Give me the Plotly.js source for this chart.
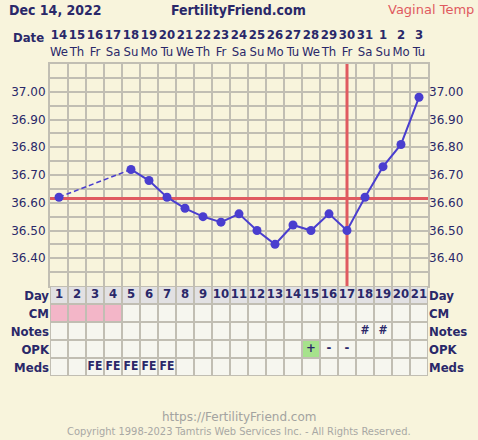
<!DOCTYPE html>
<html><head><meta charset="utf-8">
<script src="https://cdn.plot.ly/plotly-3.0.1.min.js"></script>
<style>html,body{margin:0;padding:0;background:#f8f4dc;}</style>
</head><body><div id="chart" style="width:478px;height:440px;"></div>
<script>
// ---- data ----
const cycleDays = [1,2,3,4,5,6,7,8,9,10,11,12,13,14,15,16,17,18,19,20,21];
const dateLabels = ['14','15','16','17','18','19','20','21','22','23','24','25','26','27','28','29','30','31','1','2','3'];
const weekdayLabels = ['We','Th','Fr','Sa','Su','Mo','Tu','We','Th','Fr','Sa','Su','Mo','Tu','We','Th','Fr','Sa','Su','Mo','Tu'];
const temps = [36.62,null,null,null,36.72,36.68,36.62,36.58,36.55,36.53,36.56,36.50,36.45,36.52,36.50,36.56,36.50,36.62,36.73,36.81,36.98];
const tempTicks = [36.40,36.50,36.60,36.70,36.80,36.90,37.00];
const tempRange = [36.30, 37.10];
const coverline = 36.615;
const ovulationDay = 17;
const rowLabels = ['Meds','OPK','Notes','CM','Day'];
const cmCodes = [1,1,1,1,0,0,0,0,0,0,0,0,0,0,0,0,0,0,0,0,0];
const notesMarks = ['','','','','','','','','','','','','','','','','','#','#','',''];
const opkResults = ['','','','','','','','','','','','','','','+','-','-','','','',''];
const medsMarks = ['','','FE','FE','FE','FE','FE','','','','','','','','','','','','','',''];

// ---- style ----
const BG = '#f8f4dc', GRID = '#c1beb3', NAVY = '#2a2869', LINE = '#4a3ecf', RED = '#e05a60';
const CELL = '#f6f6ef', DAYCELL = '#e2e1e3', PINK = '#f3b6c8', GREEN = '#a6e28c';
const COND = '"DejaVu Sans Condensed", "DejaVu Sans", sans-serif';
const SANS = '"DejaVu Sans", sans-serif';

// gap connectors (dashed) built from temps
const gapX = [], gapY = [];
for (let i = 0; i < temps.length; i++) {
  if (temps[i] !== null && i + 1 < temps.length && temps[i + 1] === null) {
    let j = i + 1;
    while (j < temps.length && temps[j] === null) j++;
    if (j < temps.length) { gapX.push(cycleDays[i], cycleDays[j], null); gapY.push(temps[i], temps[j], null); }
  }
}

const firstDay = cycleDays[0], lastDay = cycleDays[cycleDays.length - 1];
const boundaries = cycleDays.slice(0, -1).map(d => d + 0.5);
const H = 440;
const py = p => 1 - p / H;

function rowBar(rowIdx, colors) {
  return {type:'bar', x: cycleDays, y: cycleDays.map(() => 1), base: rowIdx, width: 1,
    xaxis:'x', yaxis:'y2', marker:{color: colors, line:{color: GRID, width: 2}}, hoverinfo:'skip'};
}
function rowText(rowIdx, texts, size) {
  return {type:'scatter', mode:'text', x: cycleDays, y: cycleDays.map(() => rowIdx + 0.5), text: texts,
    textposition:'middle center', xaxis:'x', yaxis:'y2', cliponaxis:false,
    textfont:{family: COND, size: size, color: NAVY, weight: 'bold'}, hoverinfo:'skip'};
}

const traces = [
  rowBar(4, cycleDays.map(() => DAYCELL)),
  rowBar(3, cmCodes.map(c => c ? PINK : CELL)),
  rowBar(2, notesMarks.map(() => CELL)),
  rowBar(1, opkResults.map(o => o === '+' ? GREEN : CELL)),
  rowBar(0, medsMarks.map(() => CELL)),
  rowText(4, cycleDays.map(String), 13),
  rowText(2, notesMarks, 12),
  rowText(1, opkResults, 13),
  rowText(0, medsMarks, 12),
  // coverline and ovulation line
  {type:'scatter', mode:'lines', x:[firstDay - 0.5, lastDay + 0.5], y:[coverline, coverline], xaxis:'x', yaxis:'y',
   line:{color: RED, width: 3}, hoverinfo:'skip'},
  {type:'scatter', mode:'lines', x:[ovulationDay, ovulationDay], y: tempRange, xaxis:'x', yaxis:'y',
   line:{color: RED, width: 3}, hoverinfo:'skip'},
  {type:'scatter', mode:'lines', x: gapX, y: gapY, xaxis:'x', yaxis:'y',
   line:{color: LINE, width: 1.5, dash: '5px,3px'}, hoverinfo:'skip'},
  {type:'scatter', mode:'lines+markers', x: cycleDays, y: temps, xaxis:'x', yaxis:'y', connectgaps:false,
   line:{color: LINE, width: 2}, marker:{color: LINE, size: 9}, hoverinfo:'skip'},
  {type:'scatter', mode:'markers', x:[firstDay], y:[null], xaxis:'x2', yaxis:'y', hoverinfo:'skip'},
  {type:'scatter', mode:'markers', x:[firstDay], y:[null], xaxis:'x', yaxis:'y3', hoverinfo:'skip'},
  {type:'scatter', mode:'markers', x:[firstDay], y:[null], xaxis:'x', yaxis:'y4', hoverinfo:'skip'}
];

const tempAxisCommon = {range: tempRange, tickmode:'array', tickvals: tempTicks, tickformat:'.2f',
  tickfont:{family: SANS, size: 12, color: NAVY}, ticks:'', zeroline:false, fixedrange:true};
const rowAxisCommon = {range:[0, 5], tickmode:'array', tickvals:[0.5,1.5,2.5,3.5,4.5], ticktext: rowLabels,
  tickfont:{family: COND, size: 13, color: NAVY, weight:'bold'}, ticks:'', showgrid:false, zeroline:false, fixedrange:true};

const layout = {
  width: 478, height: 440, paper_bgcolor: BG, plot_bgcolor: BG,
  margin:{l:50, r:50, t:0, b:0}, showlegend:false, hovermode:false, barmode:'overlay',
  xaxis:{domain:[0,1], range:[0.5,21.5], anchor:'y', tickmode:'array', tickvals: boundaries,
    showticklabels:false, ticks:'', showgrid:true, gridcolor: GRID, gridwidth: 2,
    showline:true, linecolor: GRID, linewidth: 2, mirror:true, zeroline:false, fixedrange:true},
  xaxis2:{overlaying:'x', side:'top', anchor:'y', range:[0.5,21.5], tickmode:'array', tickvals: cycleDays,
    ticktext: cycleDays.map((d, i) => '<b>' + dateLabels[i] + '</b><br>' + weekdayLabels[i]),
    tickangle: 0, ticklabelstandoff: 4, tickfont:{family: COND, size: 13, color: NAVY}, ticks:'', showgrid:false, zeroline:false, fixedrange:true},
  yaxis: Object.assign({}, tempAxisCommon, {domain:[py(286), py(64)], anchor:'x', side:'left',
    showgrid:true, gridcolor: GRID, gridwidth: 2,
    minor:{tickmode:'linear', tick0: 36.30, dtick: 0.05, showgrid:true, gridcolor: GRID, gridwidth: 2, ticks:''},
    showline:true, linecolor: GRID, linewidth: 2, mirror:true}),
  yaxis3: Object.assign({}, tempAxisCommon, {overlaying:'y', side:'right', anchor:'x', showgrid:false}),
  yaxis2: Object.assign({}, rowAxisCommon, {domain:[py(376), py(286)], anchor:'x', side:'left'}),
  yaxis4: Object.assign({}, rowAxisCommon, {overlaying:'y2', side:'right', anchor:'x'}),
  annotations:[
    {text:'<b>Dec 14, 2022</b>', xref:'paper', yref:'paper', x: -43/378, y: py(10), xanchor:'left', yanchor:'middle',
     showarrow:false, font:{family: COND, size: 14, color: NAVY}},
    {text:'<b>FertilityFriend.com</b>', xref:'paper', yref:'paper', x: (238-50)/378, y: py(10), xanchor:'center', yanchor:'middle',
     showarrow:false, font:{family: COND, size: 14, color: NAVY}},
    {text:'Vaginal Temp', xref:'paper', yref:'paper', x: (476-50)/378, y: py(10), xanchor:'right', yanchor:'middle',
     showarrow:false, font:{family: SANS, size: 13, color: RED}},
    {text:'<b>Date</b>', xref:'paper', yref:'paper', x: (46-50)/378, y: py(37), xanchor:'right', yanchor:'middle',
     showarrow:false, font:{family: COND, size: 13, color: NAVY}},
    {text:'https://FertilityFriend.com', xref:'paper', yref:'paper', x: (239-50)/378, y: py(417), xanchor:'center', yanchor:'middle',
     showarrow:false, font:{family: SANS, size: 12, color: '#a3a3a0'}},
    {text:'Copyright 1998-2023 Tamtris Web Services Inc. - All Rights Reserved.', xref:'paper', yref:'paper',
     x: (239-50)/378, y: py(431), xanchor:'center', yanchor:'middle',
     showarrow:false, font:{family: COND, size: 11, color: '#a8a8a4'}}
  ]
};

Plotly.newPlot('chart', traces, layout, {displayModeBar:false, staticPlot:true});
</script>
</body></html>
